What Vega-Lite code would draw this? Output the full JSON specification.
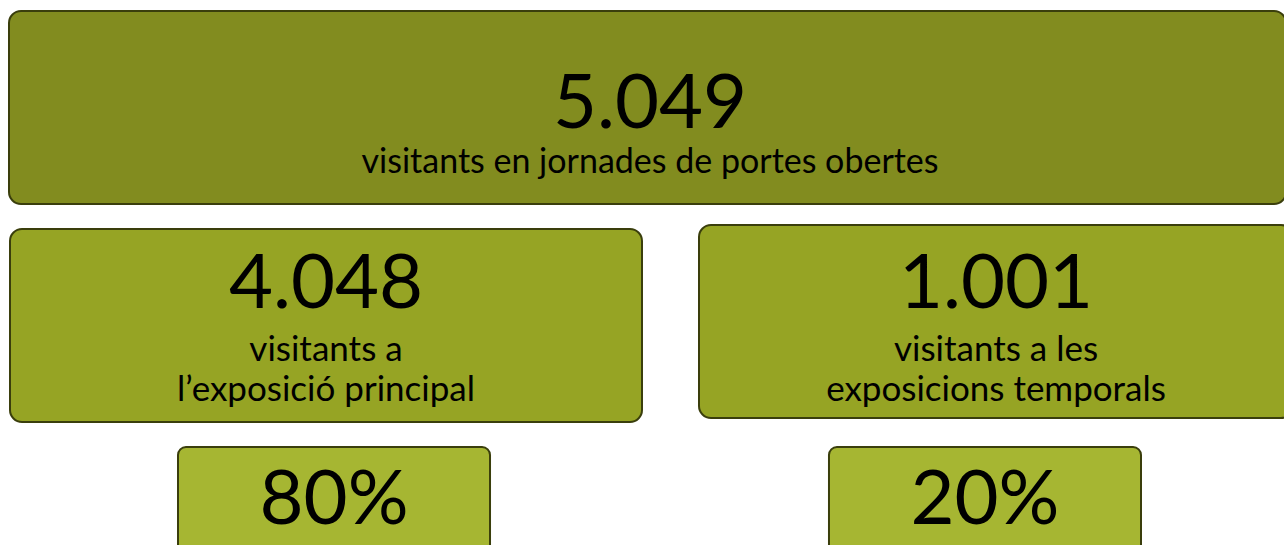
{
  "$schema": "https://vega.github.io/schema/vega-lite/v6.json",
  "width": 1284,
  "height": 545,
  "autosize": "none",
  "padding": 0,
  "background": "white",
  "config": {"view": {"stroke": null}, "text": {"font": "Lato", "color": "#000000", "baseline": "alphabetic", "align": "center"}},
  "data": {"values": [
    {"level": "total", "group": "total", "value": "5.049", "line1": "visitants en jornades de portes obertes", "line2": ""},
    {"level": "part", "group": "principal", "value": "4.048", "line1": "visitants a", "line2": "l’exposició principal"},
    {"level": "part", "group": "temporals", "value": "1.001", "line1": "visitants a les", "line2": "exposicions temporals"},
    {"level": "share", "group": "principal", "value": "80%", "line1": "", "line2": ""},
    {"level": "share", "group": "temporals", "value": "20%", "line1": "", "line2": ""}
  ]},
  "resolve": {"scale": {"x": "independent"}},
  "layer": [
    {
      "transform": [{"filter": "datum.level === 'total'"}],
      "mark": {"type": "rect", "fill": "#828C1F", "cornerRadius": 12, "stroke": "#3a3e0c", "strokeWidth": 2},
      "encoding": {
        "x": {"field": "group", "type": "nominal", "axis": null, "scale": {"type": "band", "domain": ["total"], "range": [9, 1286], "paddingInner": 0, "paddingOuter": 0}},
        "y": {"field": "level", "type": "nominal", "axis": null, "scale": {"type": "band", "domain": ["total", "part", "share"], "range": [11, 640], "paddingInner": 0.1147, "paddingOuter": 0}}
      }
    },
    {
      "transform": [{"filter": "datum.level === 'total'"}],
      "mark": {"type": "text", "fontSize": 76, "dy": 21},
      "encoding": {
        "x": {"field": "group", "type": "nominal", "axis": null, "scale": {"type": "band", "domain": ["total"], "range": [9, 1291], "paddingInner": 0, "paddingOuter": 0}},
        "y": {"field": "level", "type": "nominal", "axis": null},
        "text": {"field": "value"}
      }
    },
    {
      "transform": [{"filter": "datum.level === 'total'"}],
      "mark": {"type": "text", "fontSize": 34, "dy": 66},
      "encoding": {
        "x": {"field": "group", "type": "nominal", "axis": null, "scale": {"type": "band", "domain": ["total"], "range": [9, 1291], "paddingInner": 0, "paddingOuter": 0}},
        "y": {"field": "level", "type": "nominal", "axis": null},
        "text": {"field": "line1"}
      }
    },
    {
      "transform": [{"filter": "datum.level === 'part' && datum.group === 'principal'"}],
      "mark": {"type": "rect", "fill": "#96A424", "cornerRadius": 12, "stroke": "#3a3e0c", "strokeWidth": 2, "width": 632},
      "encoding": {
        "x": {"field": "group", "type": "nominal", "axis": null, "scale": {"type": "band", "domain": ["principal", "temporals"], "range": [-9, 1331], "paddingInner": 0, "paddingOuter": 0}},
        "y": {"field": "level", "type": "nominal", "axis": null}
      }
    },
    {
      "transform": [{"filter": "datum.level === 'part' && datum.group === 'temporals'"}],
      "mark": {"type": "rect", "fill": "#96A424", "cornerRadius": 12, "stroke": "#3a3e0c", "strokeWidth": 2, "width": 594, "yOffset": -4},
      "encoding": {
        "x": {"field": "group", "type": "nominal", "axis": null, "scale": {"type": "band", "domain": ["principal", "temporals"], "range": [-9, 1331], "paddingInner": 0, "paddingOuter": 0}},
        "y": {"field": "level", "type": "nominal", "axis": null}
      }
    },
    {
      "transform": [{"filter": "datum.level === 'part'"}],
      "mark": {"type": "text", "fontSize": 76, "dy": -18},
      "encoding": {
        "x": {"field": "group", "type": "nominal", "axis": null, "scale": {"type": "band", "domain": ["principal", "temporals"], "range": [-9, 1331], "paddingInner": 0, "paddingOuter": 0}},
        "y": {"field": "level", "type": "nominal", "axis": null},
        "text": {"field": "value"}
      }
    },
    {
      "transform": [{"filter": "datum.level === 'part'"}],
      "mark": {"type": "text", "fontSize": 35, "dy": 35},
      "encoding": {
        "x": {"field": "group", "type": "nominal", "axis": null, "scale": {"type": "band", "domain": ["principal", "temporals"], "range": [-9, 1331], "paddingInner": 0, "paddingOuter": 0}},
        "y": {"field": "level", "type": "nominal", "axis": null},
        "text": {"field": "line1"}
      }
    },
    {
      "transform": [{"filter": "datum.level === 'part'"}],
      "mark": {"type": "text", "fontSize": 35, "dy": 75},
      "encoding": {
        "x": {"field": "group", "type": "nominal", "axis": null, "scale": {"type": "band", "domain": ["principal", "temporals"], "range": [-9, 1331], "paddingInner": 0, "paddingOuter": 0}},
        "y": {"field": "level", "type": "nominal", "axis": null},
        "text": {"field": "line2"}
      }
    },
    {
      "transform": [{"filter": "datum.level === 'share'"}],
      "mark": {"type": "rect", "fill": "#A6B632", "cornerRadius": 8, "stroke": "#3a3e0c", "strokeWidth": 2},
      "encoding": {
        "x": {"field": "group", "type": "nominal", "axis": null, "scale": {"type": "band", "domain": ["principal", "temporals"], "range": [178, 1141], "paddingInner": 0.5207, "paddingOuter": 0}},
        "y": {"field": "level", "type": "nominal", "axis": null}
      }
    },
    {
      "transform": [{"filter": "datum.level === 'share'"}],
      "mark": {"type": "text", "fontSize": 76, "dy": -19.5},
      "encoding": {
        "x": {"field": "group", "type": "nominal", "axis": null, "scale": {"type": "band", "domain": ["principal", "temporals"], "range": [178, 1141], "paddingInner": 0.5207, "paddingOuter": 0}},
        "y": {"field": "level", "type": "nominal", "axis": null},
        "text": {"field": "value"}
      }
    }
  ]
}
